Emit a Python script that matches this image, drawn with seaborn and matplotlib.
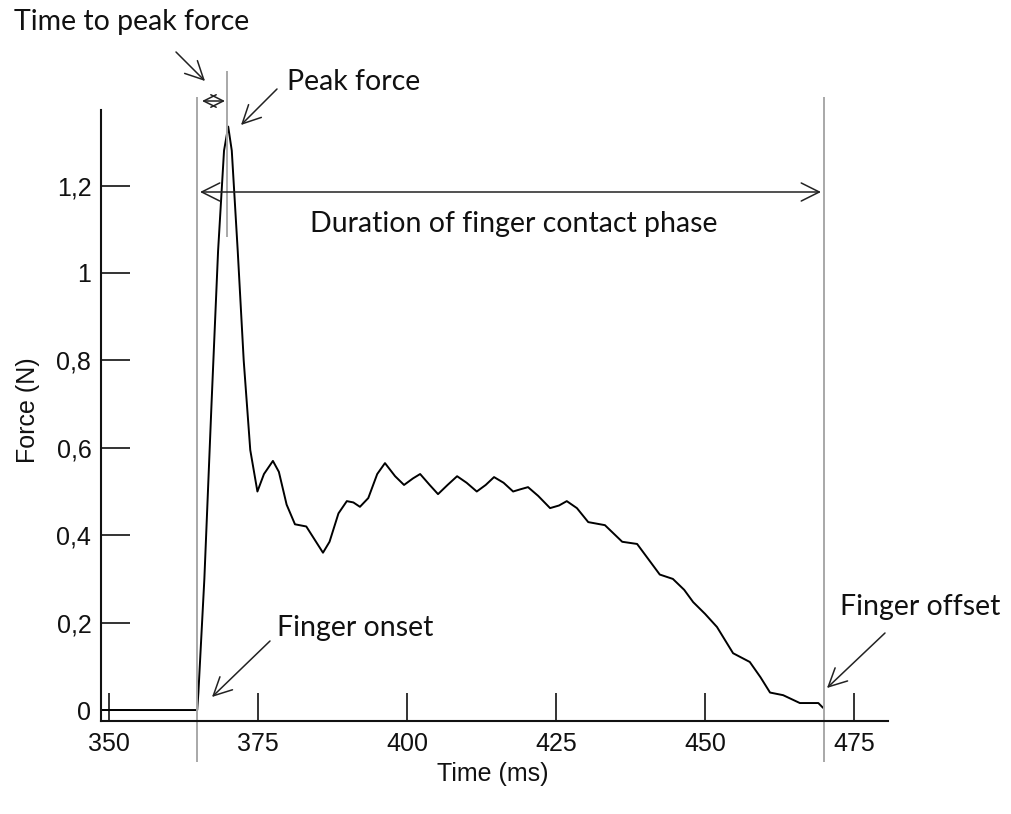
import matplotlib
matplotlib.use('Agg')
import matplotlib.pyplot as plt
import seaborn as sns
from matplotlib import font_manager

# force trace (ms, N)
time_ms = [348.7, 364.8, 365.0, 366.0, 367.2, 368.3, 369.3, 370.0, 370.6, 371.6,
           372.6, 373.7, 374.9, 376.0, 377.5, 378.5, 379.8, 381.2, 383.1, 384.5,
           385.9, 387.0, 388.5, 389.9, 391.0, 392.1, 393.5, 395.0, 396.3, 398.0,
           399.5, 401.0, 402.2, 403.8, 405.2, 406.8, 408.4, 410.0, 411.7, 413.2,
           414.6, 416.2, 417.8, 419.0, 420.3, 422.0, 424.0, 425.5, 426.8, 428.5,
           430.4, 433.2, 436.1, 438.6, 440.5, 442.4, 444.6, 446.5, 448.0, 450.0,
           452.0, 454.7, 457.5, 459.3, 460.9, 463.1, 465.9, 469.0, 469.8]
force_n = [0.0, 0.0, 0.04, 0.30, 0.70, 1.05, 1.28, 1.335, 1.28, 1.05,
           0.80, 0.595, 0.50, 0.54, 0.57, 0.545, 0.47, 0.425, 0.42, 0.39,
           0.36, 0.385, 0.45, 0.478, 0.475, 0.465, 0.485, 0.54, 0.565, 0.535,
           0.515, 0.53, 0.54, 0.515, 0.494, 0.515, 0.535, 0.52, 0.50, 0.515,
           0.533, 0.52, 0.50, 0.505, 0.51, 0.49, 0.462, 0.468, 0.478, 0.462,
           0.43, 0.423, 0.385, 0.38, 0.345, 0.31, 0.30, 0.275, 0.247, 0.22,
           0.19, 0.13, 0.11, 0.075, 0.04, 0.034, 0.016, 0.016, 0.005]

onset_ms = 364.8
peak_ms = 369.8
offset_ms = 470.0

x_ticks = [350, 375, 400, 425, 450, 475]
y_ticks = [0, 0.2, 0.4, 0.6, 0.8, 1.0, 1.2]
y_ticklabels = ['0', '0,2', '0,4', '0,6', '0,8', '1', '1,2']

sns.set_style('ticks')
names = {f.name for f in font_manager.fontManager.ttflist}
axis_font = 'Liberation Sans' if 'Liberation Sans' in names else 'DejaVu Sans'
note_font = 'Lato' if 'Lato' in names else 'DejaVu Sans'
plt.rcParams['font.family'] = [axis_font, 'DejaVu Sans']

fig = plt.figure(figsize=(10.11, 8.14), dpi=100)
ax = fig.add_axes([0.0999, 0.1143, 0.7785, 0.7506])

sns.lineplot(x=time_ms, y=force_n, color='black', linewidth=1.4, ax=ax, sort=False)

# event markers, drawn past the axes like the original
ax.vlines([onset_ms, offset_ms], -0.119, 1.403, colors='#a8a8a8', linewidth=1.4, clip_on=False)
ax.vlines([peak_ms], 1.082, 1.462, colors='#a8a8a8', linewidth=1.4, clip_on=False)

ax.set_xlim(348.66, 480.7)
ax.set_ylim(-0.025, 1.373)
ax.set_xticks(x_ticks)
ax.set_yticks(y_ticks)
ax.set_yticklabels(y_ticklabels)
sns.despine(ax=ax)
for s in ['left', 'bottom']:
    ax.spines[s].set_linewidth(1.5)
    ax.spines[s].set_color('#111111')
ax.tick_params(axis='x', direction='in', length=20, width=1.2, pad=8, labelsize=18, colors='#111111')
ax.tick_params(axis='y', direction='in', length=21, width=1.2, pad=7, labelsize=18, colors='#111111')

ax.set_xlabel('Time (ms)', fontsize=18, color='#111111')
ax.set_ylabel('Force (N)', fontsize=18, color='#111111')
ax.xaxis.set_label_coords(0.498, -0.087)
ax.xaxis.label.set_va('center')
ax.yaxis.set_label_coords(-0.093, 0.509)
ax.yaxis.label.set_va('center')

H = 814


def note(x, y, s):
    fig.text(x / 1011, 1 - y / H, s, fontsize=20.5, family=[note_font, 'DejaVu Sans'],
             ha='left', va='center', color='#111111')


def arrow(x0, y0, x1, y1, style='->', scale=26):
    ax.annotate('', xy=(x1, H - y1), xycoords='figure pixels',
                xytext=(x0, H - y0), textcoords='figure pixels',
                arrowprops=dict(arrowstyle=style + ',head_length=0.5,head_width=0.25',
                                lw=1.1, color='#222222', shrinkA=0, shrinkB=0,
                                mutation_scale=scale))


note(14, 22, 'Time to peak force')
note(287, 82, 'Peak force')
note(310, 224, 'Duration of finger contact phase')
note(277, 628, 'Finger onset')
note(840, 607, 'Finger offset')

arrow(176, 52, 205, 81)
arrow(277, 89, 241, 125)
arrow(270, 641, 212, 697)
arrow(885, 633, 827, 688)
arrow(202, 101, 225, 101, '<->', 18)
arrow(200, 192, 821, 192, '<->')

fig.savefig('out.png', dpi=100)
